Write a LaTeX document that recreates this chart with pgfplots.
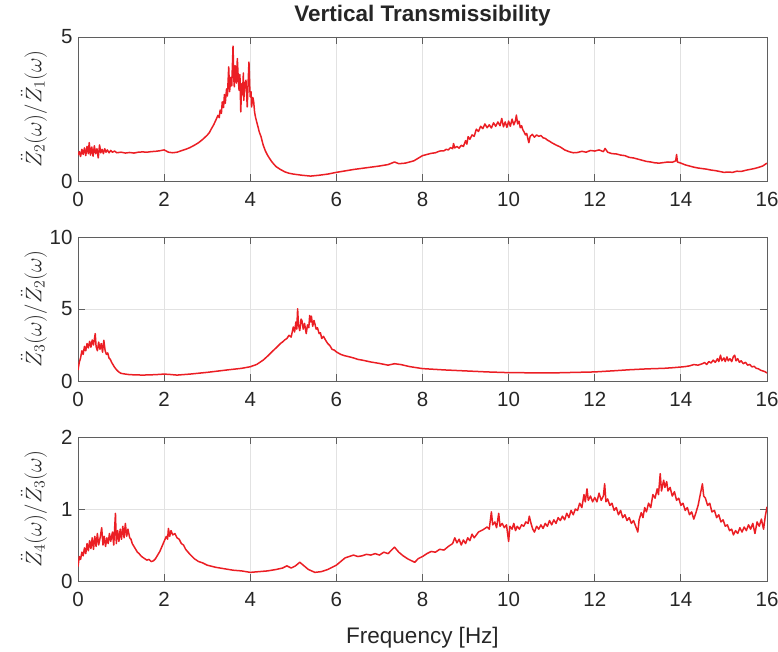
\RequirePackage{fix-cm}
\documentclass[border=0pt]{standalone}
\usepackage{pgfplots}
\pgfplotsset{compat=1.18}
\usepackage{fontspec}
\setmainfont{Liberation Sans}
\definecolor{axgray}{RGB}{38,38,38}
\definecolor{framegray}{RGB}{95,95,95}
\definecolor{gridgray}{RGB}{226,226,226}
\definecolor{linered}{RGB}{235,30,36}
\pgfplotsset{myax/.style={
  width=689bp, height=144bp, scale only axis,
  anchor=south west,
  xmin=0, xmax=16, xtick={0,2,...,16},
  grid=major, major grid style={gridgray, line width=0.8bp},
  axis line style={framegray, line width=0.9bp},
  tick style={framegray, line width=0.9bp},
  tick align=inside, major tick length=7bp,
  ticklabel style={font=\fontsize{20.5bp}{24bp}\selectfont, text=axgray},
  xticklabel style={yshift=-8bp},
  yticklabel style={xshift=-2bp},
  /pgf/number format/assume math mode=true,
  every axis y label/.style={at={(axis description cs:-0.064,0.5)}, rotate=90, anchor=center, font=\fontsize{22.5bp}{26bp}\selectfont, text=axgray},
}}
\pgfplotsset{sig/.style={draw=linered, line width=1.5bp, mark=none, line join=round}}
\begin{document}
\begin{tikzpicture}
\useasboundingbox (0,0) rectangle (778bp,652bp);
% ---------------- top ----------------
\begin{axis}[myax, at={(78bp,471bp)}, ymin=0, ymax=5, ytick={0,5},
  ylabel={$\ddot{Z}_2(\omega)/\ddot{Z}_1(\omega)$},
  title={Vertical Transmissibility},
  title style={at={(axis description cs:0.5,1)}, anchor=base, yshift=10bp, font=\bfseries\fontsize{22.5bp}{26bp}\selectfont, text=axgray}]
\addplot[sig] coordinates {
(0.00,0.90)(0.03,1.02)(0.06,0.85)(0.09,1.10)(0.12,0.92)(0.15,1.15)(0.18,0.88)(0.21,1.20)(0.24,0.95)(0.26,1.33)
(0.29,0.90)(0.32,1.18)(0.35,0.86)(0.38,1.22)(0.41,0.95)(0.44,1.12)(0.47,0.80)(0.50,1.25)(0.53,0.98)(0.56,1.10)
(0.59,0.95)(0.62,1.12)(0.65,1.00)(0.68,1.08)(0.72,0.98)(0.76,1.06)(0.80,1.00)(0.85,1.04)(0.90,0.98)(1.00,1.00)
(1.10,0.97)(1.20,0.99)(1.30,0.97)(1.40,1.00)(1.50,1.01)(1.60,1.00)(1.70,1.02)(1.80,1.03)(1.90,1.05)(2.00,1.08)
(2.05,1.04)(2.10,1.00)(2.20,0.98)(2.30,1.00)(2.40,1.05)(2.50,1.10)(2.60,1.16)(2.70,1.24)(2.80,1.33)(2.90,1.45)
(3.00,1.59)(3.05,1.68)(3.10,1.82)(3.15,1.95)(3.20,2.11)(3.25,2.28)(3.28,2.20)(3.30,2.46)(3.33,2.35)(3.35,2.75)
(3.38,2.55)(3.40,3.00)(3.42,2.70)(3.45,3.20)(3.47,2.95)(3.50,3.96)(3.52,3.10)(3.55,3.60)(3.57,3.30)(3.59,4.20)
(3.60,4.68)(3.62,3.50)(3.63,3.27)(3.65,4.00)(3.66,3.96)(3.68,3.40)(3.70,4.25)(3.72,3.60)(3.74,3.15)(3.76,3.70)
(3.78,2.40)(3.80,3.38)(3.82,3.00)(3.84,3.75)(3.85,2.80)(3.87,3.30)(3.90,3.50)(3.92,2.90)(3.93,2.57)(3.95,3.40)
(3.97,4.13)(3.99,3.20)(4.00,2.92)(4.02,3.10)(4.03,2.57)(4.06,2.90)(4.08,2.75)(4.10,2.40)(4.12,2.23)(4.15,2.05)
(4.18,1.88)(4.21,1.70)(4.25,1.54)(4.30,1.25)(4.35,1.05)(4.40,0.90)(4.45,0.78)(4.50,0.67)(4.55,0.58)(4.60,0.50)
(4.70,0.40)(4.80,0.32)(4.90,0.27)(5.00,0.24)(5.20,0.20)(5.40,0.17)(5.60,0.20)(5.80,0.24)(6.00,0.30)(6.20,0.35)
(6.40,0.40)(6.60,0.44)(6.80,0.48)(7.00,0.52)(7.20,0.57)(7.35,0.66)(7.45,0.60)(7.60,0.62)(7.80,0.70)(8.00,0.88)
(8.10,0.92)(8.20,0.96)(8.30,0.98)(8.40,1.04)(8.50,1.05)(8.55,1.10)(8.60,1.08)(8.65,1.16)(8.70,1.12)(8.72,1.30)
(8.75,1.15)(8.80,1.20)(8.85,1.14)(8.90,1.24)(8.95,1.20)(9.00,1.40)(9.03,1.28)(9.06,1.54)(9.10,1.45)(9.15,1.60)
(9.20,1.55)(9.25,1.80)(9.30,1.72)(9.35,1.90)(9.40,1.82)(9.45,1.98)(9.50,1.85)(9.55,1.95)(9.60,1.84)(9.65,2.02)
(9.70,1.90)(9.75,2.05)(9.80,1.92)(9.84,2.17)(9.88,1.88)(9.92,2.05)(9.96,1.86)(10.00,2.08)(10.04,1.90)(10.08,2.15)
(10.12,1.95)(10.16,2.10)(10.18,2.29)(10.21,1.98)(10.24,2.08)(10.27,1.85)(10.30,1.92)(10.33,1.78)(10.36,1.70)(10.39,1.60)
(10.42,1.65)(10.45,1.45)(10.47,1.33)(10.50,1.55)(10.55,1.62)(10.60,1.52)(10.65,1.60)(10.70,1.55)(10.75,1.58)(10.80,1.50)
(10.85,1.48)(10.90,1.42)(10.95,1.38)(11.00,1.33)(11.10,1.25)(11.20,1.18)(11.30,1.08)(11.40,1.02)(11.50,0.98)(11.60,0.99)
(11.70,1.03)(11.80,1.00)(11.90,1.06)(12.00,1.04)(12.10,1.08)(12.20,1.02)(12.24,1.13)(12.30,1.00)(12.40,0.95)(12.50,0.94)
(12.60,0.90)(12.70,0.88)(12.80,0.82)(12.90,0.80)(13.00,0.76)(13.10,0.72)(13.20,0.68)(13.30,0.66)(13.40,0.63)(13.50,0.62)
(13.60,0.64)(13.70,0.66)(13.80,0.65)(13.88,0.70)(13.90,0.92)(13.92,0.66)(14.00,0.62)(14.10,0.56)(14.20,0.52)(14.30,0.48)
(14.40,0.45)(14.50,0.43)(14.60,0.41)(14.70,0.38)(14.80,0.36)(14.90,0.33)(15.00,0.30)(15.10,0.31)(15.20,0.30)(15.30,0.34)
(15.40,0.33)(15.50,0.37)(15.60,0.40)(15.70,0.43)(15.80,0.47)(15.90,0.52)(16.00,0.62)
};
\end{axis}
% ---------------- middle ----------------
\begin{axis}[myax, at={(78bp,271bp)}, ymin=0, ymax=10, ytick={0,5,10},
  ylabel={$\ddot{Z}_3(\omega)/\ddot{Z}_2(\omega)$}]
\addplot[sig] coordinates {
(0.00,0.76)(0.03,1.30)(0.06,1.60)(0.09,2.10)(0.12,1.85)(0.15,2.40)(0.18,2.10)(0.21,2.60)(0.24,2.30)(0.27,2.75)
(0.30,2.35)(0.33,2.85)(0.36,2.50)(0.40,3.29)(0.42,2.40)(0.45,2.10)(0.48,2.70)(0.51,2.20)(0.54,2.60)(0.57,2.00)
(0.60,2.83)(0.63,2.10)(0.66,1.85)(0.69,1.95)(0.72,1.60)(0.75,1.50)(0.78,1.30)(0.81,1.15)(0.85,0.95)(0.90,0.76)
(0.95,0.62)(1.00,0.53)(1.10,0.48)(1.20,0.44)(1.50,0.41)(1.80,0.44)(2.00,0.48)(2.15,0.45)(2.30,0.41)(2.60,0.48)
(3.00,0.60)(3.50,0.78)(3.80,0.88)(4.00,0.99)(4.15,1.15)(4.30,1.45)(4.40,1.72)(4.50,2.02)(4.60,2.30)(4.70,2.60)
(4.75,2.71)(4.80,2.85)(4.85,2.95)(4.90,3.17)(4.95,3.05)(5.00,3.75)(5.03,3.40)(5.06,4.10)(5.08,3.60)(5.10,5.01)
(5.12,3.90)(5.15,3.50)(5.18,4.30)(5.20,4.20)(5.23,3.60)(5.26,4.00)(5.30,3.29)(5.33,3.90)(5.36,3.70)(5.38,4.55)
(5.40,4.10)(5.42,4.50)(5.45,3.80)(5.48,4.20)(5.50,3.98)(5.53,3.60)(5.56,3.70)(5.60,3.29)(5.63,3.35)(5.66,2.95)
(5.70,3.10)(5.75,2.83)(5.80,2.60)(5.85,2.45)(5.90,2.20)(5.95,2.15)(6.00,2.02)(6.10,1.85)(6.20,1.75)(6.30,1.68)
(6.40,1.60)(6.50,1.50)(6.60,1.45)(6.80,1.32)(7.00,1.22)(7.20,1.10)(7.35,1.20)(7.50,1.14)(7.70,1.00)(8.00,0.86)
(8.50,0.77)(9.00,0.70)(9.50,0.63)(10.00,0.58)(11.00,0.56)(12.00,0.63)(12.50,0.72)(12.80,0.78)(13.00,0.81)(13.20,0.84)
(13.40,0.86)(13.60,0.88)(13.80,0.92)(14.00,0.97)(14.10,1.00)(14.20,1.05)(14.30,1.14)(14.40,1.10)(14.50,1.20)(14.55,1.28)
(14.60,1.15)(14.65,1.35)(14.70,1.25)(14.75,1.45)(14.80,1.30)(14.85,1.55)(14.88,1.35)(14.92,1.79)(14.95,1.40)(15.00,1.60)
(15.03,1.35)(15.07,1.67)(15.10,1.40)(15.14,1.55)(15.18,1.35)(15.22,1.70)(15.25,1.79)(15.28,1.40)(15.32,1.55)(15.36,1.30)
(15.40,1.40)(15.45,1.20)(15.50,1.30)(15.55,1.10)(15.60,1.15)(15.65,0.98)(15.70,1.02)(15.75,0.88)(15.80,0.85)(15.85,0.75)
(15.90,0.70)(15.95,0.65)(16.00,0.56)
};
\end{axis}
% ---------------- bottom ----------------
\begin{axis}[myax, at={(78bp,71bp)}, ymin=0, ymax=2, ytick={0,1,2},
  ylabel={$\ddot{Z}_4(\omega)/\ddot{Z}_3(\omega)$},
  xlabel={Frequency [Hz]},
  xlabel style={at={(axis description cs:0.5,0)}, anchor=base, yshift=-62bp, font=\fontsize{22.5bp}{26bp}\selectfont, text=axgray}]
\addplot[sig] coordinates {
(0.00,0.20)(0.03,0.34)(0.06,0.30)(0.09,0.40)(0.12,0.35)(0.15,0.46)(0.18,0.38)(0.21,0.52)(0.24,0.42)(0.27,0.56)
(0.30,0.45)(0.33,0.60)(0.36,0.44)(0.39,0.62)(0.42,0.48)(0.45,0.66)(0.48,0.50)(0.52,0.62)(0.55,0.74)(0.58,0.50)
(0.61,0.62)(0.64,0.48)(0.67,0.60)(0.70,0.52)(0.73,0.66)(0.76,0.55)(0.80,0.68)(0.83,0.50)(0.87,0.94)(0.89,0.52)
(0.92,0.70)(0.95,0.55)(0.98,0.72)(1.01,0.58)(1.04,0.76)(1.07,0.60)(1.10,0.80)(1.13,0.62)(1.16,0.72)(1.20,0.60)
(1.23,0.58)(1.26,0.52)(1.30,0.48)(1.34,0.44)(1.38,0.40)(1.42,0.38)(1.46,0.35)(1.50,0.33)(1.55,0.31)(1.60,0.29)
(1.65,0.30)(1.70,0.27)(1.75,0.28)(1.80,0.31)(1.85,0.36)(1.90,0.41)(1.95,0.48)(2.00,0.55)(2.05,0.62)(2.08,0.58)
(2.10,0.73)(2.13,0.62)(2.16,0.70)(2.20,0.64)(2.25,0.66)(2.30,0.60)(2.35,0.58)(2.40,0.52)(2.45,0.50)(2.50,0.44)
(2.60,0.37)(2.70,0.31)(2.80,0.27)(2.90,0.25)(3.00,0.22)(3.20,0.19)(3.40,0.17)(3.60,0.15)(3.80,0.14)(4.00,0.12)
(4.20,0.13)(4.40,0.14)(4.60,0.16)(4.75,0.18)(4.85,0.21)(4.95,0.18)(5.05,0.21)(5.15,0.26)(5.25,0.21)(5.35,0.16)
(5.50,0.12)(5.65,0.13)(5.80,0.16)(6.00,0.22)(6.10,0.27)(6.20,0.32)(6.30,0.34)(6.40,0.36)(6.50,0.34)(6.60,0.35)
(6.70,0.37)(6.80,0.36)(6.90,0.38)(7.00,0.36)(7.10,0.40)(7.20,0.38)(7.30,0.44)(7.35,0.47)(7.45,0.40)(7.55,0.35)
(7.65,0.31)(7.75,0.28)(7.82,0.26)(7.90,0.31)(8.00,0.34)(8.10,0.38)(8.20,0.41)(8.30,0.40)(8.40,0.44)(8.50,0.43)
(8.60,0.48)(8.70,0.52)(8.75,0.60)(8.80,0.53)(8.85,0.58)(8.90,0.50)(8.95,0.57)(9.00,0.52)(9.05,0.60)(9.10,0.56)
(9.15,0.65)(9.20,0.60)(9.30,0.68)(9.40,0.71)(9.50,0.75)(9.55,0.72)(9.60,0.96)(9.63,0.78)(9.68,0.82)(9.72,0.74)
(9.77,0.94)(9.80,0.76)(9.85,0.80)(9.90,0.74)(9.95,0.78)(10.00,0.55)(10.03,0.76)(10.08,0.72)(10.12,0.80)(10.16,0.70)
(10.20,0.76)(10.25,0.72)(10.30,0.78)(10.35,0.76)(10.40,0.82)(10.45,0.80)(10.48,0.90)(10.52,0.80)(10.56,0.72)(10.60,0.68)
(10.65,0.76)(10.70,0.72)(10.75,0.78)(10.80,0.73)(10.85,0.80)(10.90,0.76)(10.95,0.84)(11.00,0.78)(11.05,0.85)(11.10,0.80)
(11.15,0.88)(11.20,0.84)(11.25,0.90)(11.30,0.85)(11.35,0.94)(11.40,0.88)(11.45,0.98)(11.50,0.92)(11.55,1.00)(11.60,0.98)
(11.65,1.08)(11.70,1.02)(11.75,1.20)(11.78,1.10)(11.82,1.28)(11.85,1.12)(11.90,1.18)(11.95,1.10)(12.00,1.16)(12.05,1.10)
(12.10,1.22)(12.15,1.12)(12.20,1.18)(12.23,1.35)(12.26,1.10)(12.30,1.14)(12.35,1.05)(12.40,1.08)(12.45,0.98)(12.50,1.02)
(12.55,0.92)(12.60,0.98)(12.65,0.88)(12.70,0.92)(12.75,0.84)(12.80,0.88)(12.85,0.80)(12.90,0.84)(12.95,0.76)(13.00,0.68)
(13.03,0.85)(13.08,0.95)(13.12,0.88)(13.16,1.02)(13.20,0.96)(13.25,1.08)(13.30,1.02)(13.35,1.20)(13.40,1.15)(13.45,1.28)
(13.48,1.20)(13.52,1.49)(13.55,1.25)(13.60,1.40)(13.63,1.30)(13.67,1.38)(13.70,1.25)(13.75,1.30)(13.80,1.18)(13.85,1.24)
(13.90,1.12)(13.95,1.15)(14.00,1.05)(14.05,1.08)(14.10,0.98)(14.15,1.02)(14.20,0.92)(14.25,0.96)(14.30,0.86)(14.35,0.95)
(14.40,1.05)(14.45,1.20)(14.50,1.35)(14.53,1.18)(14.57,1.15)(14.62,1.05)(14.67,1.08)(14.72,0.96)(14.78,0.98)(14.83,0.88)
(14.88,0.92)(14.93,0.82)(14.98,0.85)(15.03,0.76)(15.08,0.78)(15.13,0.70)(15.18,0.72)(15.22,0.64)(15.27,0.70)(15.32,0.66)
(15.37,0.74)(15.42,0.68)(15.47,0.75)(15.52,0.70)(15.57,0.78)(15.62,0.72)(15.67,0.80)(15.72,0.66)(15.77,0.82)(15.82,0.76)
(15.87,0.86)(15.92,0.72)(15.96,0.90)(16.00,1.03)
};
\end{axis}
\end{tikzpicture}
\end{document}
